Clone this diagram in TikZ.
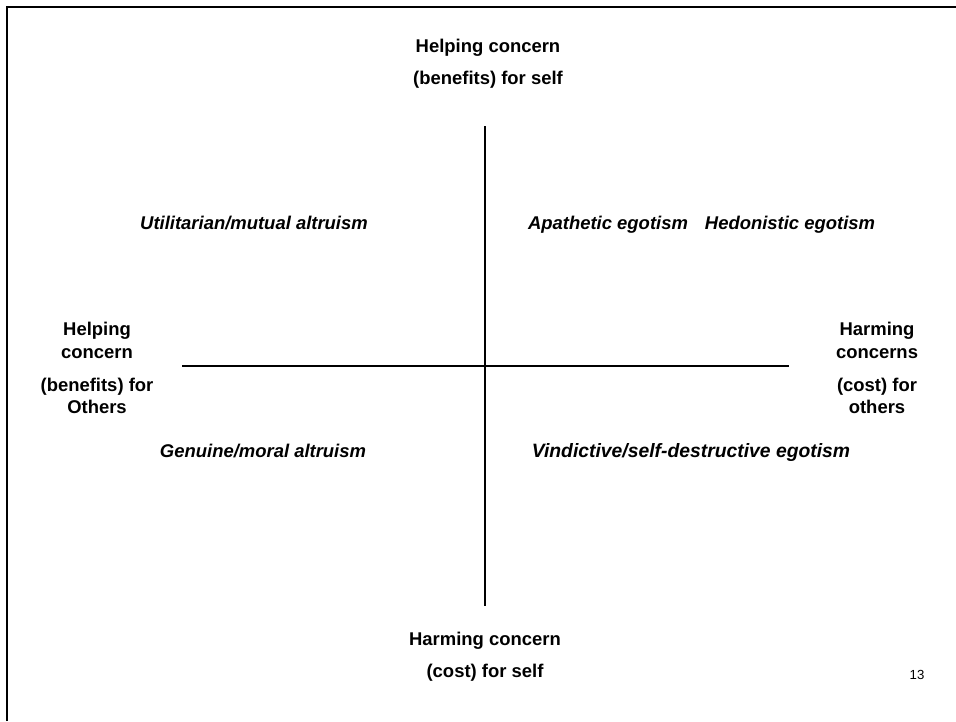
\documentclass[tikz,border=0pt]{standalone}
\usepackage{fontspec}
\setmainfont{Liberation Sans}
\usepackage{tikz}
\usetikzlibrary{positioning}

\begin{document}
\begin{tikzpicture}[x=0.02cm, y=-0.02cm,
  axislabel/.style={font=\fontsize{10.5}{12.6}\selectfont\bfseries, align=center, inner sep=0pt},
  quadlabel/.style={font=\fontsize{10.5}{12.6}\selectfont\bfseries\itshape, inner sep=0pt, anchor=base},
  axis/.style={line width=1.1pt, black},
]
\useasboundingbox (0,0) rectangle (956,721);
% slide frame (left and top edges only)
\draw[line width=1.7pt] (7,721) -- (7,7) -- (956,7);

% axis ends
\coordinate (top) at (485,126);
\coordinate (bot) at (485,606);
\coordinate (lft) at (182,366);
\coordinate (rgt) at (789,366);
\draw[axis] (top) -- (bot);
\draw[axis] (lft) -- (rgt);

% axis labels
\node[axislabel] (selfhelp) at (488,64) {Helping concern\\[0.2cm](benefits) for self};
\node[axislabel] (selfharm) at (485,657) {Harming concern\\[0.2cm](cost) for self};
\node[axislabel] (othhelp) at (97,368) {Helping\\concern\\[0.22cm](benefits) for\\Others};
\node[axislabel] (othharm) at (877,368) {Harming\\concerns\\[0.22cm](cost) for\\others};

% quadrants
\node[quadlabel] (util) at (254,229) {Utilitarian/mutual altruism};
\node[quadlabel] (apath) at (608,229) {Apathetic egotism};
\node[quadlabel] (hedon) at (790,229) {Hedonistic egotism};
\node[quadlabel] (genu) at (263,457) {Genuine/moral altruism};
\node[quadlabel, font=\fontsize{11}{13}\selectfont\bfseries\itshape] (vind) at (691,457) {Vindictive/self-destructive egotism};

\node[font=\fontsize{7.5}{9}\selectfont] (pgno) at (917,675) {13};
\end{tikzpicture}
\end{document}
